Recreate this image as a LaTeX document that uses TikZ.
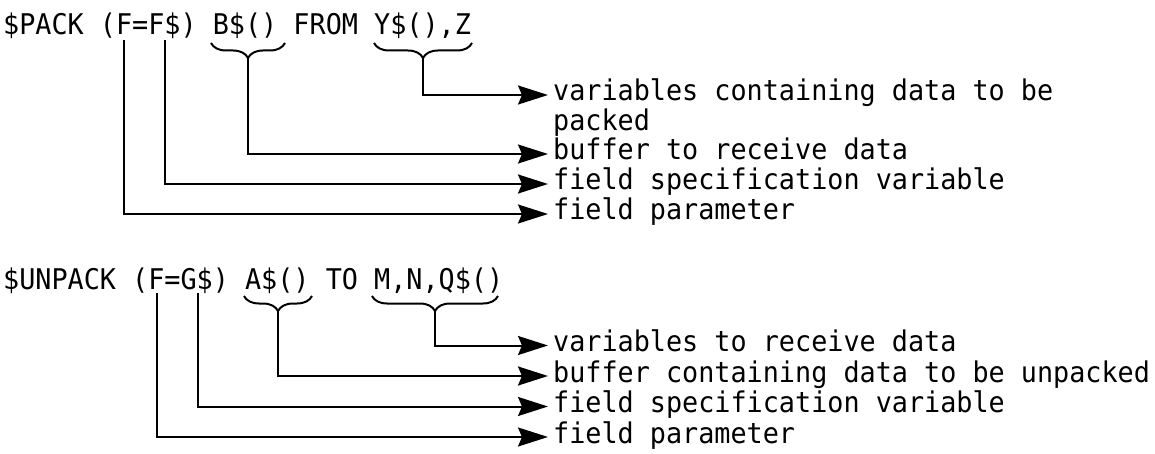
\documentclass[tikz,border=0pt]{standalone}
\usepackage{fontspec}
\newfontfamily\codefont[FakeStretch=0.94]{DejaVu Sans Mono}
\usetikzlibrary{arrows.meta,decorations.pathreplacing,calc}
\begin{document}
\begin{tikzpicture}[x=1pt,y=-1pt,
  txt/.style={font=\codefont\fontsize{28.5}{30}\selectfont, inner sep=0pt, anchor=base west},
  conn/.style={line width=2pt, -{Stealth[length=30pt,width=19pt,inset=4pt]}},
  brc/.style={line width=2pt, decorate, decoration={brace,mirror,amplitude=15pt}}]
\useasboundingbox[fill=white] (0,0) rectangle (1155,454);

% ---------- $PACK ----------
\node[txt] (pack) at (3,35) {\$PACK (F=F\$) B\$() FROM Y\$(),Z};
\draw[brc] (211,43) -- (285,43);
\draw[brc] (374,43) -- (472,43);
\coordinate (pb) at (248,58);
\coordinate (py) at (423,58);
\coordinate (pf1) at (124,40);
\coordinate (pf2) at (165,40);

\node[txt] (pl1) at (553,101) {variables containing data to be};
\node[txt] (pl1b) at (553,131) {packed};
\node[txt] (pl2) at (553,160) {buffer to receive data};
\node[txt] (pl3) at (553,190) {field specification variable};
\node[txt] (pl4) at (553,220) {field parameter};

\coordinate (pa1) at ($(pl1.base west)+(-5,-6)$);
\coordinate (pa2) at ($(pl2.base west)+(-5,-6)$);
\coordinate (pa3) at ($(pl3.base west)+(-5,-6)$);
\coordinate (pa4) at ($(pl4.base west)+(-5,-6)$);

\draw[conn] (py) |- (pa1);
\draw[conn] (pb) |- (pa2);
\draw[conn] (pf2) |- (pa3);
\draw[conn] (pf1) |- (pa4);

% ---------- $UNPACK ----------
\node[txt] (unpack) at (3,289) {\$UNPACK (F=G\$) A\$() TO M,N,Q\$()};
\draw[brc] (244,296) -- (312,296);
\draw[brc] (372,296) -- (498,296);
\coordinate (ua) at (278,311);
\coordinate (um) at (435,311);
\coordinate (uf1) at (157,293);
\coordinate (uf2) at (198,293);

\node[txt] (ul1) at (553,351.5) {variables to receive data};
\node[txt] (ul2) at (553,382) {buffer containing data to be unpacked};
\node[txt] (ul3) at (553,412.5) {field specification variable};
\node[txt] (ul4) at (553,443) {field parameter};

\coordinate (ua1) at ($(ul1.base west)+(-5,-6)$);
\coordinate (ua2) at ($(ul2.base west)+(-5,-6)$);
\coordinate (ua3) at ($(ul3.base west)+(-5,-6)$);
\coordinate (ua4) at ($(ul4.base west)+(-5,-6)$);

\draw[conn] (um) |- (ua1);
\draw[conn] (ua) |- (ua2);
\draw[conn] (uf2) |- (ua3);
\draw[conn] (uf1) |- (ua4);
\end{tikzpicture}
\end{document}
